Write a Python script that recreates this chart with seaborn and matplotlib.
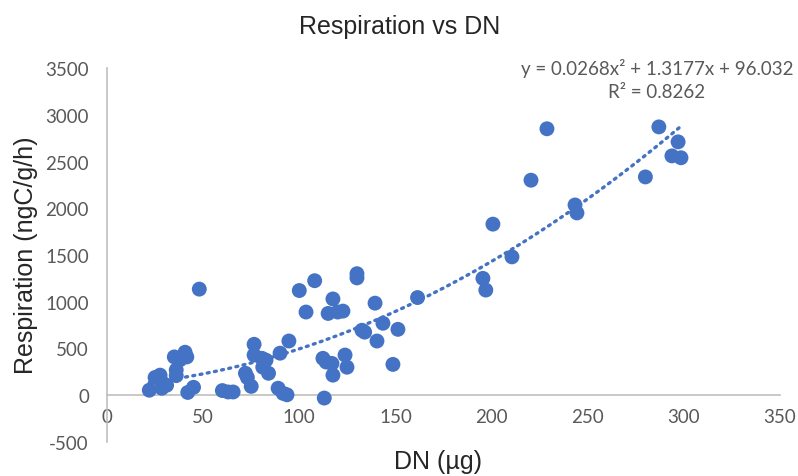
import numpy as np
import pandas as pd
import matplotlib
matplotlib.use("Agg")
import matplotlib.pyplot as plt
import seaborn as sns

dn = [22, 25, 27.6, 29, 31, 28.5, 35, 36, 36, 38, 40.6, 41.5, 42, 45, 48,
      60, 63, 65.6, 72, 73, 75, 76.5, 76.5, 80.6, 82.7, 81, 84, 90, 94.6,
      89, 91.6, 93.6, 100, 103.5, 108, 113, 112.3, 114, 117, 117.5, 123.8,
      124.8, 115, 117.5, 120, 122.7, 130, 130, 132.6, 134, 139.4, 140.4,
      143.5, 148.7, 151.3, 161.5, 195.5, 197, 200.7, 210.6, 220.5, 228.8,
      243.4, 244.4, 280, 287, 293.8, 297, 298.5]
resp = [54, 190, 215, 130, 107, 75, 410, 270, 210, 380, 460, 410, 30, 85, 1135,
        50, 35, 35, 235, 190, 95, 545, 430, 395, 375, 300, 235, 450, 580,
        75, 20, 5, 1120, 890, 1225, -30, 395, 355, 340, 215, 430,
        300, 875, 1030, 890, 900, 1300, 1255, 695, 675, 985, 580,
        770, 330, 705, 1045, 1250, 1125, 1830, 1480, 2300, 2850,
        2035, 1950, 2335, 2870, 2560, 2710, 2540]

trend_coef = [0.0268, 1.3177, 96.032]
x_ticks = [0, 50, 100, 150, 200, 250, 300, 350]
y_ticks = [-500, 0, 500, 1000, 1500, 2000, 2500, 3000, 3500]
title = "Respiration vs DN"
x_label = "DN (µg)"
y_label = "Respiration (ngC/g/h)"
eq_text = "y = 0.0268x² + 1.3177x + 96.032"
r2_text = "R² = 0.8262"

sns.set_style("white")
plt.rcParams['font.family'] = ['Lato', 'DejaVu Sans']

blue = "#4472C4"
grey_axis = "#BFBFBF"
grey_text = "#595959"
label_font = ["Liberation Sans", "DejaVu Sans"]

df = pd.DataFrame({"DN": dn, "Resp": resp})

fig = plt.figure(figsize=(7.98, 4.77), dpi=100)
ax = fig.add_axes([107/798, 34/477, (780-107)/798, (443-69)/477])

sns.scatterplot(data=df, x="DN", y="Resp", ax=ax, s=115, color=blue,
                edgecolor="none", linewidth=0, zorder=3)

xt = np.linspace(min(dn), max(dn), 200)
yt = np.polyval(trend_coef, xt)
ax.plot(xt, yt, color=blue, lw=2.4, linestyle=(0, (0.6, 1.6)),
        dash_capstyle="round", zorder=2)

ax.set_xlim(0, 350)
ax.set_ylim(-500, 3500)
ax.set_xticks(x_ticks)
ax.set_yticks(y_ticks)
ax.set_xticklabels([str(v) for v in x_ticks])
ax.set_yticklabels([str(v) for v in y_ticks])
ax.tick_params(axis="both", length=0, labelsize=13.5, colors=grey_text)
ax.tick_params(axis="x", pad=9)
ax.tick_params(axis="y", pad=13)

for s in ["top", "right"]:
    ax.spines[s].set_visible(False)
ax.spines["bottom"].set_position(("data", 0))
ax.spines["bottom"].set_color(grey_axis)
ax.spines["bottom"].set_linewidth(1.2)
ax.spines["left"].set_color(grey_axis)
ax.spines["left"].set_linewidth(1.2)

ax.set_xlabel("")
ax.set_ylabel("")
fig.text(438/798, 1 - 462/477, x_label, ha="center", va="center",
         fontsize=18, color="#262626", family=label_font)
fig.text(26/798, 1 - 255/477, y_label, ha="center", va="center", rotation=90,
         fontsize=18, color="#262626", family=label_font)
fig.text(400/798, 1 - 27/477, title, ha="center", va="center",
         fontsize=18, color="#262626", family=label_font)
fig.text(657/798, 1 - 68/477, eq_text, ha="center", va="center",
         fontsize=13.5, color=grey_text)
fig.text(657/798, 1 - 93/477, r2_text, ha="center", va="center",
         fontsize=13.5, color=grey_text)

fig.savefig("out.png", dpi=100, facecolor="white")
